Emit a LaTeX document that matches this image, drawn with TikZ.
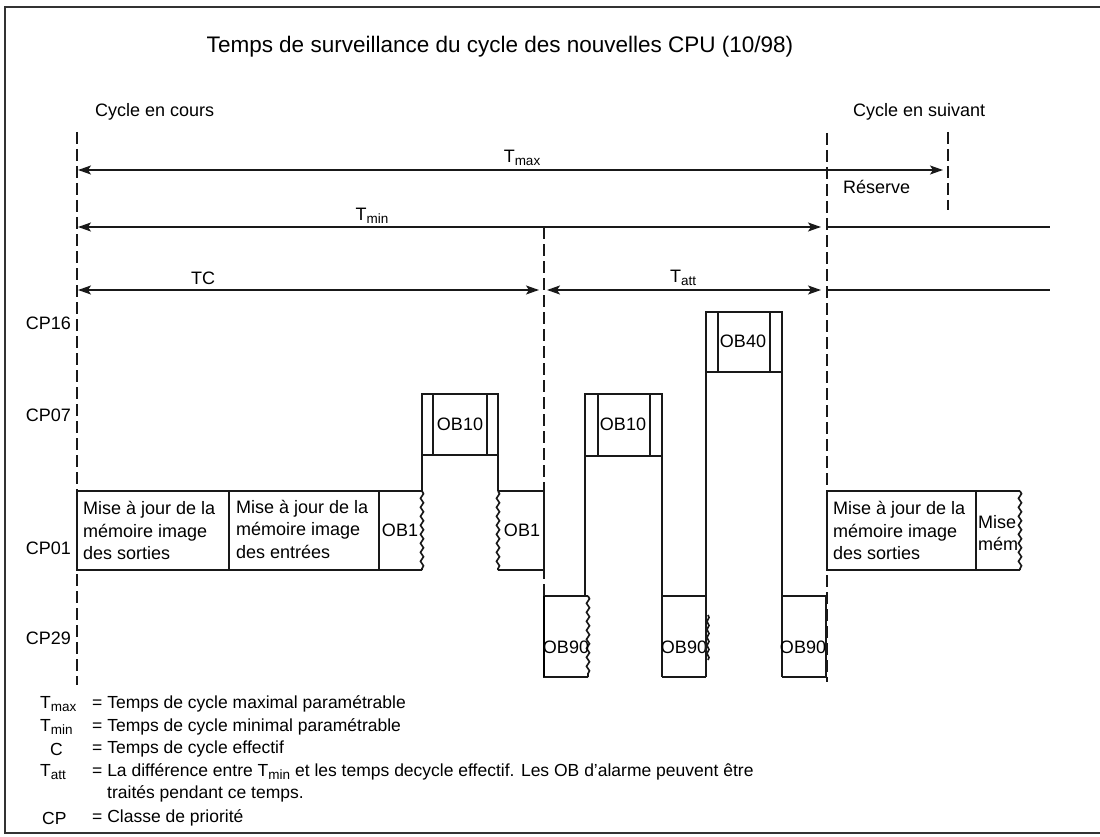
\documentclass[tikz,border=0pt]{standalone}
\usepackage{fontspec}
\setmainfont{Liberation Sans}
\usetikzlibrary{arrows.meta,decorations.pathmorphing}
\newcommand\subt[1]{\raisebox{-0.3ex}{\fontsize{13.5}{13.5}\selectfont #1}}
\begin{document}
\begin{tikzpicture}[x=1pt,y=-1pt,
  ln/.style={line width=1.7pt, black!90},
  dsh/.style={ln, dash pattern=on 12pt off 5pt},
  tip/.tip={Stealth[length=13pt,width=9pt,inset=3pt]},
  arr/.style={ln, tip-tip},
  wavy/.style={ln, decorate, decoration={snake, amplitude=1.5pt, segment length=9pt}},
  txt/.style={font=\fontsize{18}{22.5}\selectfont, inner sep=0pt},
  boxtxt/.style={txt, align=left, anchor=west},
  leg/.style={font=\fontsize{17.5}{22}\selectfont, inner sep=0pt, anchor=west},
  cplbl/.style={txt, anchor=east},
  ttl/.style={font=\fontsize{22.5}{26}\selectfont, inner sep=0pt}]
\useasboundingbox (0,0) rectangle (1100,837);
% frame
\draw[line width=1.8pt, black!80] (1100,7) -- (5,7) -- (5,833) -- (1100,833);
% title and headings
\node[ttl] (title) at (500,47) {Temps de surveillance du cycle des nouvelles CPU (10/98)};
\node[txt, anchor=west] (cur) at (95,112) {Cycle en cours};
\node[txt, anchor=west] (nxt) at (853,112) {Cycle en suivant};
\node[txt, anchor=west] (res) at (843,187) {Réserve};
% priority class labels
\node[cplbl] (cp16) at (71,323) {CP16};
\node[cplbl] (cp07) at (71,415) {CP07};
\node[cplbl] (cp01) at (71,548) {CP01};
\node[cplbl] (cp29) at (71,638) {CP29};
% vertical dashed lines
\coordinate (a0) at (77,132); \coordinate (a1) at (77,685);
\coordinate (b0) at (544,227); \coordinate (b1) at (544,677);
\coordinate (c0) at (827,133); \coordinate (c1) at (827,682);
\coordinate (d0) at (948,132); \coordinate (d1) at (948,210);
\draw[dsh] (a0) -- (a1);
\draw[dsh] (b0) -- (b1);
\draw[dsh] (c0) -- (c1);
\draw[dsh] (d0) -- (d1);
% time arrows
\coordinate (tmaxL) at (78,170); \coordinate (tmaxR) at (943,170);
\coordinate (tminL) at (78,227); \coordinate (tminR) at (821,227);
\coordinate (tminE) at (1050,227);
\coordinate (tcL) at (78,290); \coordinate (tcR) at (539,290);
\coordinate (taL) at (547,290); \coordinate (taR) at (821,290);
\coordinate (taE) at (1050,290);
\draw[arr] (tmaxL) -- (tmaxR);
\draw[arr] (tminL) -- (tminR);
\draw[ln] (c0 |- tminE) -- (tminE);
\draw[arr] (tcL) -- (tcR);
\draw[arr] (taL) -- (taR);
\draw[ln] (c0 |- taE) -- (taE);
\node[txt] (lmax) at (522,158) {T\subt{max}};
\node[txt] (lmin) at (372,216) {T\subt{min}};
\node[txt] (ltc) at (203,278) {TC};
\node[txt] (latt) at (683,278) {T\subt{att}};
% CP01 row, current cycle
\draw[ln] (77,491) rectangle (229,570);
\node[boxtxt] (mj1) at (83,530.5) {Mise à jour de la\\mémoire image\\des sorties};
\draw[ln] (229,491) rectangle (379,570);
\node[boxtxt] (mj2) at (236,529) {Mise à jour de la\\mémoire image\\des entrées};
\draw[ln] (422,491) -- (379,491) -- (379,570) -- (422,570);
\draw[wavy] (422,491) -- (422,570);
\node[txt] (ob1a) at (400,530) {OB1};
% OB10 first
\draw[ln] (422,491) -- (422,394) -- (498,394) -- (498,491);
\draw[ln] (422,455) -- (498,455);
\draw[ln] (433,394) -- (433,455);
\draw[ln] (487,394) -- (487,455);
\node[txt] (ob10a) at (460,424) {OB10};
% OB1 second
\draw[ln] (498,491) -- (544,491) -- (544,570) -- (498,570);
\draw[wavy] (498,491) -- (498,570);
\node[txt] (ob1b) at (522,530) {OB1};
% OB90 first
\draw[ln] (588,596) -- (544,596) -- (544,677) -- (588,677);
\draw[line width=2.4pt] (544,596) -- (544,677);
\draw[wavy] (588,596) -- (588,677);
\node[txt] (ob90a) at (566,647) {OB90};
% OB10 second
\draw[ln] (585,596) -- (585,394) -- (662,394) -- (662,677);
\draw[ln] (585,456) -- (662,456);
\draw[ln] (598,394) -- (598,456);
\draw[ln] (650,394) -- (650,456);
\node[txt] (ob10b) at (623,424) {OB10};
% OB90 second
\draw[ln] (662,596) -- (706,596);
\draw[ln] (662,677) -- (706,677);
\draw[ln, decorate, decoration={snake, amplitude=1pt, segment length=8pt}] (708,615) -- (708,660);
\node[txt] (ob90b) at (684,647) {OB90};
% OB40
\draw[ln] (706,677) -- (706,312) -- (782,312) -- (782,677);
\draw[ln] (706,372) -- (782,372);
\draw[ln] (718,312) -- (718,372);
\draw[ln] (770,312) -- (770,372);
\node[txt] (ob40) at (743,341) {OB40};
% OB90 third
\draw[ln] (782,596) -- (826,596);
\draw[ln] (782,677) -- (826,677);
\draw[ln] (826,596) -- (826,677);
\node[txt] (ob90c) at (803,647) {OB90};
% CP01 row, next cycle
\draw[ln] (827,491) rectangle (976,570);
\node[boxtxt] (mj3) at (833,530.5) {Mise à jour de la\\mémoire image\\des sorties};
\draw[ln] (976,491) -- (1020,491);
\draw[ln] (976,570) -- (1020,570);
\draw[wavy] (1020,491) -- (1020,570);
\node[txt, align=left, anchor=west] (mj4) at (978,533) {Mise\\mém};
% legend
\node[leg] (k1) at (40,704) {T\subt{max}};
\node[leg] (v1) at (92,704) {= Temps de cycle maximal paramétrable};
\node[leg] (k2) at (40,727) {T\subt{min}};
\node[leg] (v2) at (92,727) {= Temps de cycle minimal paramétrable};
\node[leg] (k3) at (50,749) {C};
\node[leg] (v3) at (92,749) {= Temps de cycle effectif};
\node[leg] (k4) at (40,772) {T\subt{att}};
\node[leg] (v4) at (92,772) {= La différence entre T\subt{min} et les temps decycle effectif. Les OB d'alarme peuvent être};
\node[leg] (v4b) at (107,794) {traités pendant ce temps.};
\node[leg] (k5) at (42,818) {CP};
\node[leg] (v5) at (92,818) {= Classe de priorité};
\end{tikzpicture}
\end{document}
